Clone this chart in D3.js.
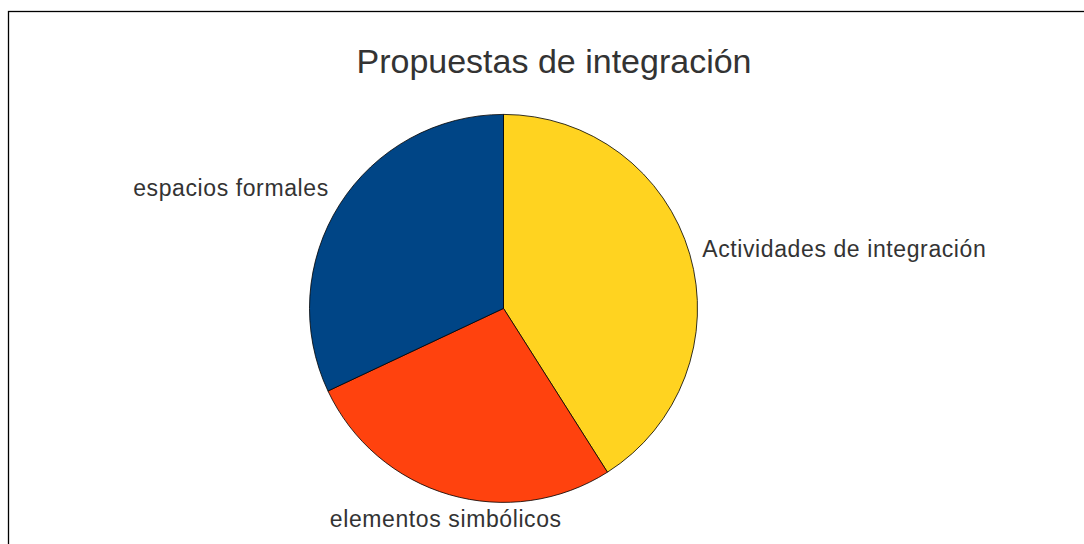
<!DOCTYPE html>
<html>
<head>
<meta charset="utf-8">
<script src="https://cdn.jsdelivr.net/npm/d3@7"></script>
<style>
  html, body { margin: 0; padding: 0; background: #fff; }
  svg { display: block; }
</style>
</head>
<body>
<svg id="chart" width="1084" height="544"></svg>
<script>
const title = "Propuestas de integración";
const categories = ["Actividades de integración", "elementos simbólicos", "espacios formales"];
const values = [41, 27, 32];
const colors = ["#ffd320", "#ff420e", "#004586"];

const W = 1084, H = 544;
const cx = 503.5, cy = 308.4, R = 194;
const svg = d3.select("#chart");
const font = "'Liberation Sans', Arial, sans-serif";

// frame
svg.append("rect")
  .attr("x", 8.5).attr("y", 11.5)
  .attr("width", W + 20).attr("height", H + 20)
  .attr("fill", "none").attr("stroke", "#000").attr("stroke-width", 1.3);

svg.append("text")
  .attr("x", 554).attr("y", 73)
  .attr("text-anchor", "middle")
  .attr("font-family", font).attr("font-size", 34)
  .attr("fill", "#333")
  .text(title);

const data = categories.map((c, i) => ({ cat: c, value: values[i], color: colors[i] }));
const pie = d3.pie().value(d => d.value).sort(null);
const arcs = pie(data);
const arc = d3.arc().innerRadius(0).outerRadius(R);

const g = svg.append("g").attr("transform", `translate(${cx},${cy})`);
g.selectAll("path").data(arcs).join("path")
  .attr("d", arc)
  .attr("fill", d => d.data.color)
  .attr("stroke", "#000").attr("stroke-width", 0.8);

const labelR = R + 13;
const fs = 23;
// sector-based placement: 0 top,1 top-right,2 right,3 bottom-right,4 bottom,5 bottom-left,6 left,7 top-left
const hAnchor = ["middle", "start", "start", "start", "middle", "end", "end", "end"];
const vShift = ["-0.07em", "-0.07em", "0.28em", "0.85em", "0.85em", "0.85em", "0.28em", "-0.07em"];
g.selectAll("text.lbl").data(arcs).join("text")
  .attr("class", "lbl")
  .each(function(d) {
    const a = (d.startAngle + d.endAngle) / 2;
    const sector = Math.round(a / (Math.PI / 4)) % 8;
    d3.select(this)
      .attr("x", labelR * Math.sin(a)).attr("y", -labelR * Math.cos(a))
      .attr("dy", vShift[sector])
      .attr("text-anchor", hAnchor[sector]);
  })
  .attr("font-family", font).attr("font-size", fs)
  .attr("letter-spacing", 0.6)
  .attr("fill", "#333")
  .text(d => d.data.cat);
</script>
</body>
</html>
